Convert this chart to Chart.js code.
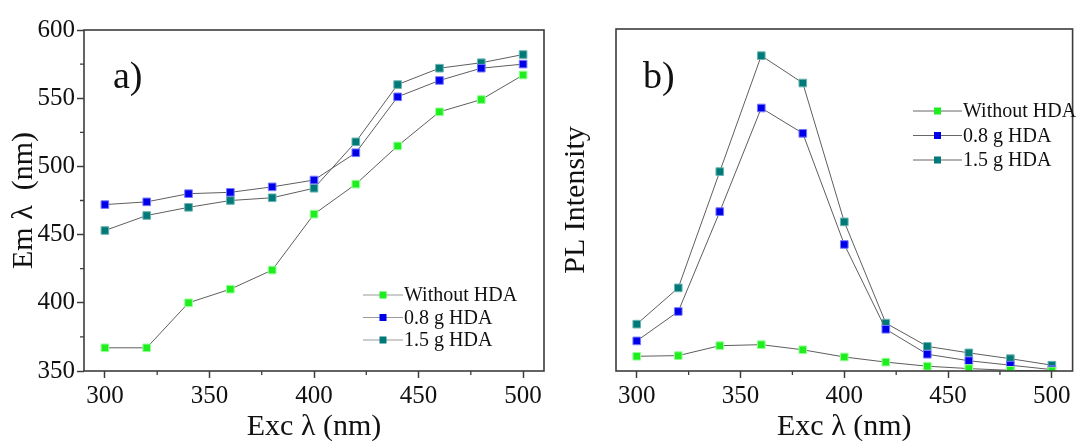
<!DOCTYPE html>
<html>
<head>
<meta charset="utf-8">
<script src="https://cdn.jsdelivr.net/npm/chart.js@4.4.1/dist/chart.umd.min.js"></script>
<style>
  html, body { margin: 0; padding: 0; background: #fff; }
  #wrap { position: relative; width: 1079px; height: 441px; overflow: hidden; background: #fff; }
  #c1 { position: absolute; left: 0; top: 0; }
  #c2 { position: absolute; left: 550px; top: 0; }
</style>
</head>
<body>
<div id="wrap">
  <canvas id="c1" width="560" height="441" style="width:560px;height:441px"></canvas>
  <canvas id="c2" width="529" height="441" style="width:529px;height:441px"></canvas>
</div>
<script>
// data
const excWavelengths = [300, 320, 340, 360, 380, 400, 420, 440, 460, 480, 500];
const seriesLabels = ["Without HDA", "0.8 g HDA", "1.5 g HDA"];

// panel a) emission wavelength (nm)
const emWithout = [367, 367, 400, 410, 424, 465, 487, 515, 540, 549, 567];
const em08 = [472, 474, 480, 481, 485, 490, 510, 551, 563, 572, 575];
const em15 = [453, 464, 470, 475, 477, 484, 518, 560, 572, 576, 582];

// panel b) PL intensity (arb. units)
const plWithout = [4.3, 4.5, 7.4, 7.7, 6.2, 4.1, 2.6, 1.4, 0.7, 0.2, 0];
const pl08 = [8.8, 17.4, 46.6, 76.9, 69.5, 37.0, 12.2, 4.9, 3.0, 1.7, 0.4];
const pl15 = [13.7, 24.3, 58.3, 92.2, 84.2, 43.6, 14.0, 7.2, 5.3, 3.6, 1.7];

const xTicksMinor = [325, 375, 425, 475];
const yTicksMinorA = [375, 425, 475, 525, 575];

const colours = ["rgb(30,238,30)", "rgb(0,0,232)", "rgb(0,122,120)"];
const edgeColours = ["rgb(150,255,150)", "rgb(120,120,255)", "rgb(110,180,178)"];
const serif = '"Liberation Serif", "Times New Roman", serif';
const axisColour = "#3c3c3c";

Chart.defaults.font.family = serif;
Chart.defaults.color = "#111";

function makeDatasets(values) {
  return values.map((vals, i) => ({
    label: seriesLabels[i],
    data: excWavelengths.map((x, j) => ({ x: x, y: vals[j] })),
    borderColor: "#5e5e5e",
    borderWidth: 1,
    tension: 0,
    pointStyle: "rect",
    pointRadius: 5.4,
    pointHoverRadius: 5.4,
    pointBackgroundColor: colours[i],
    pointBorderColor: edgeColours[i],
    pointBorderWidth: 1,
    fill: false,
  }));
}

// frame round the plot area
const frame = {
  id: "frame",
  afterDatasetsDraw(chart) {
    const { ctx, chartArea: { top, bottom, left, right } } = chart;
    ctx.save();
    ctx.strokeStyle = axisColour;
    ctx.lineWidth = 1.6;
    ctx.strokeRect(left, top, right - left, bottom - top);
    ctx.restore();
  },
};

// short minor ticks outside the frame
const minorTicks = {
  id: "minorTicks",
  afterDatasetsDraw(chart, args, opts) {
    const { ctx, chartArea: { bottom, left }, scales: { x, y } } = chart;
    ctx.save();
    ctx.strokeStyle = axisColour;
    ctx.lineWidth = 1.3;
    ctx.beginPath();
    (opts.x || []).forEach((v) => {
      const px = x.getPixelForValue(v);
      ctx.moveTo(px, bottom);
      ctx.lineTo(px, bottom + 4);
    });
    (opts.y || []).forEach((v) => {
      const py = y.getPixelForValue(v);
      ctx.moveTo(left, py);
      ctx.lineTo(left - 4, py);
    });
    ctx.stroke();
    ctx.restore();
  },
};

// "a)" / "b)"
const panelLabel = {
  id: "panelLabel",
  afterDatasetsDraw(chart, args, opts) {
    const { ctx } = chart;
    ctx.save();
    ctx.font = "38px " + serif;
    ctx.fillStyle = "#111";
    ctx.textBaseline = "alphabetic";
    ctx.textAlign = "left";
    ctx.fillText(opts.text, opts.x, opts.y);
    ctx.restore();
  },
};

// legend with line - marker - line
const legendBox = {
  id: "legendBox",
  afterDatasetsDraw(chart, args, opts) {
    const { ctx } = chart;
    ctx.save();
    ctx.font = "20px " + serif;
    ctx.textBaseline = "middle";
    ctx.textAlign = "left";
    chart.data.datasets.forEach((ds, i) => {
      const y = opts.y + i * opts.gap;
      ctx.strokeStyle = opts.lineColor;
      ctx.lineWidth = 1;
      ctx.beginPath();
      ctx.moveTo(opts.x, y);
      ctx.lineTo(opts.x + opts.len, y);
      ctx.stroke();
      ctx.fillStyle = ds.pointBackgroundColor;
      ctx.fillRect(opts.x + opts.len / 2 - 3.5, y - 3.5, 7, 7);
      ctx.fillStyle = "#111";
      ctx.fillText(ds.label, opts.x + opts.len + 1, y + 1);
    });
    ctx.restore();
  },
};

function xScale() {
  return {
    type: "linear",
    min: 290,
    max: 510,
    afterFit(scale) { scale.height = 70; },
    ticks: {
      stepSize: 50,
      includeBounds: false,
      padding: 3,
      font: { size: 25, family: serif },
      color: "#111",
    },
    grid: {
      drawOnChartArea: false,
      tickLength: 7,
      tickColor: axisColour,
      tickWidth: 1.5,
    },
    border: { display: false },
    title: {
      display: true,
      text: "Exc λ (nm)",
      font: { size: 30, family: serif },
      color: "#111",
      padding: { top: 0, bottom: -4 },
    },
  };
}

const chartA = new Chart(document.getElementById("c1"), {
  type: "line",
  data: { datasets: makeDatasets([emWithout, em08, em15]) },
  options: {
    responsive: false,
    animation: false,
    layout: { padding: { top: 30, right: 16, bottom: 0, left: 0 } },
    scales: {
      x: xScale(),
      y: {
        type: "linear",
        min: 350,
        max: 600,
        afterFit(scale) { scale.width = 84; },
        ticks: {
          stepSize: 50,
          padding: 2,
          font: { size: 25, family: serif },
          color: "#111",
        },
        grid: {
          drawOnChartArea: false,
          tickLength: 7,
          tickColor: axisColour,
          tickWidth: 1.5,
        },
        border: { display: false },
        title: {
          display: true,
          text: "Em λ  (nm)",
          font: { size: 30, family: serif },
          color: "#111",
          padding: { top: 6, bottom: 0 },
        },
      },
    },
    plugins: {
      legend: { display: false },
      tooltip: { enabled: false },
      minorTicks: { x: xTicksMinor, y: yTicksMinorA },
      panelLabel: { text: "a)", x: 113, y: 88 },
      legendBox: { x: 363, y: 295, gap: 22.5, len: 40, lineColor: "#9a9a9a" },
    },
  },
  plugins: [frame, minorTicks, panelLabel, legendBox],
});

const chartB = new Chart(document.getElementById("c2"), {
  type: "line",
  data: { datasets: makeDatasets([plWithout, pl08, pl15]) },
  options: {
    responsive: false,
    animation: false,
    layout: { padding: { top: 29, right: 1, bottom: 0, left: 0 } },
    scales: {
      x: xScale(),
      y: {
        type: "linear",
        min: 0,
        max: 100,
        afterFit(scale) { scale.width = 66; },
        ticks: { display: false },
        grid: { display: false },
        border: { display: false },
        title: {
          display: true,
          text: "PL Intensity",
          font: { size: 30, family: serif },
          color: "#111",
          padding: { top: 8, bottom: 0 },
        },
      },
    },
    plugins: {
      legend: { display: false },
      tooltip: { enabled: false },
      minorTicks: { x: xTicksMinor },
      panelLabel: { text: "b)", x: 93, y: 88 },
      legendBox: { x: 363, y: 111, gap: 24.5, len: 49, lineColor: "#666" },
    },
  },
  plugins: [frame, minorTicks, panelLabel, legendBox],
});
</script>
</body>
</html>
